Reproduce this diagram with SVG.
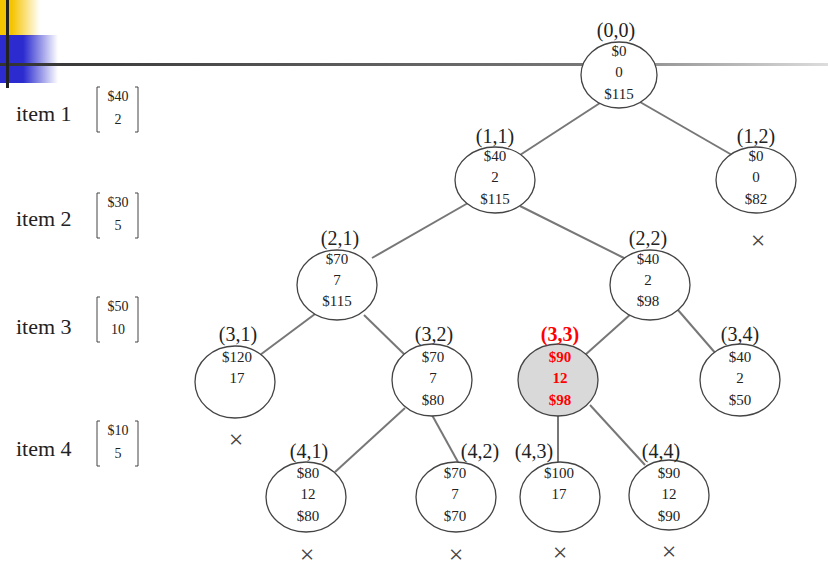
<svg xmlns="http://www.w3.org/2000/svg" width="828" height="575" viewBox="0 0 828 575">
<defs>
<linearGradient id="gy" x1="0" x2="1"><stop offset="0.3" stop-color="#f5c400"/><stop offset="1" stop-color="#f5c400" stop-opacity="0"/></linearGradient>
<linearGradient id="gb" x1="0" x2="1"><stop offset="0.4" stop-color="#2b2bd0"/><stop offset="1" stop-color="#2b2bd0" stop-opacity="0"/></linearGradient>
<linearGradient id="gl" x1="0" x2="1"><stop offset="0" stop-color="#333"/><stop offset="0.7" stop-color="#777"/><stop offset="1" stop-color="#ddd"/></linearGradient>
<style>
text{font-family:'Liberation Serif','DejaVu Serif',serif;fill:#222;text-anchor:middle}
.n ellipse{fill:#fff;stroke:#444;stroke-width:1.3}
.v{font-size:15px}
.l{font-size:20px}
.it{font-size:22px;text-anchor:start}
.m{font-size:14px}
.x{font-size:26px;fill:#444}
#edges line{stroke:#777;stroke-width:2}
.b{fill:none;stroke:#444;stroke-width:1}
.red text{fill:#f00;font-weight:bold}
</style>
</defs>
<rect x="0" y="0" width="40" height="36" fill="url(#gy)"/>
<rect x="0" y="35" width="58" height="48" fill="url(#gb)"/>
<rect x="0" y="63" width="828" height="3" fill="url(#gl)"/>
<rect x="6" y="0" width="3" height="88" fill="#222"/>
<g id="items">
<text class="it" x="16" y="121">item 1</text>
<text class="it" x="16" y="226">item 2</text>
<text class="it" x="16" y="334">item 3</text>
<text class="it" x="16" y="456">item 4</text>
<g id="m1"><path class="b" d="M100,87 h-3 v45 h3 M135,87 h3 v45 h-3"/><text class="m" x="118" y="101">$40</text><text class="m" x="118" y="124">2</text></g>
<g id="m2"><path class="b" d="M100,193 h-3 v45 h3 M135,193 h3 v45 h-3"/><text class="m" x="118" y="207">$30</text><text class="m" x="118" y="230">5</text></g>
<g id="m3"><path class="b" d="M100,297 h-3 v45 h3 M135,297 h3 v45 h-3"/><text class="m" x="118" y="311">$50</text><text class="m" x="118" y="334">10</text></g>
<g id="m4"><path class="b" d="M100,421 h-3 v45 h3 M135,421 h3 v45 h-3"/><text class="m" x="118" y="435">$10</text><text class="m" x="118" y="458">5</text></g>
</g>
<g id="edges">
<line x1="600" y1="103" x2="520" y2="155"/>
<line x1="640" y1="102" x2="732" y2="155"/>
<line x1="468" y1="203" x2="372" y2="258"/>
<line x1="520" y1="206" x2="624" y2="258"/>
<line x1="315" y1="314" x2="260" y2="355"/>
<line x1="364" y1="315" x2="405" y2="355"/>
<line x1="632" y1="313" x2="585" y2="355"/>
<line x1="678" y1="310" x2="717" y2="355"/>
<line x1="405" y1="408" x2="335" y2="472"/>
<line x1="432" y1="415" x2="458" y2="462"/>
<line x1="558" y1="415" x2="558" y2="462"/>
<line x1="590" y1="405" x2="645" y2="465"/>
</g>
<g id="n00" class="n"><ellipse cx="619" cy="75" rx="38" ry="33"/><text class="l" x="616" y="37">(0,0)</text><text class="v" x="619" y="56">$0</text><text class="v" x="619" y="77">0</text><text class="v" x="619" y="99">$115</text></g>
<g id="n11" class="n"><ellipse cx="495" cy="180" rx="40" ry="33"/><text class="l" x="495" y="143">(1,1)</text><text class="v" x="495" y="161">$40</text><text class="v" x="495" y="182">2</text><text class="v" x="495" y="204">$115</text></g>
<g id="n12" class="n"><ellipse cx="756" cy="180" rx="40" ry="33"/><text class="l" x="756" y="143">(1,2)</text><text class="v" x="756" y="161">$0</text><text class="v" x="756" y="182">0</text><text class="v" x="756" y="204">$82</text></g>
<g id="n21" class="n"><ellipse cx="337" cy="285" rx="40" ry="35"/><text class="l" x="340" y="245">(2,1)</text><text class="v" x="337" y="264">$70</text><text class="v" x="337" y="285">7</text><text class="v" x="337" y="306">$115</text></g>
<g id="n22" class="n"><ellipse cx="650" cy="285" rx="40" ry="35"/><text class="l" x="648" y="245">(2,2)</text><text class="v" x="648" y="264">$40</text><text class="v" x="648" y="285">2</text><text class="v" x="648" y="306">$98</text></g>
<g id="n31" class="n"><ellipse cx="235" cy="382" rx="40" ry="36"/><text class="l" x="238" y="341">(3,1)</text><text class="v" x="237" y="362">$120</text><text class="v" x="237" y="383">17</text></g>
<g id="n32" class="n"><ellipse cx="432" cy="380" rx="40" ry="36"/><text class="l" x="434" y="341">(3,2)</text><text class="v" x="433" y="362">$70</text><text class="v" x="433" y="383">7</text><text class="v" x="433" y="405">$80</text></g>
<g id="n33" class="n red"><ellipse cx="558" cy="380" rx="40" ry="36" style="fill:#d9d9d9"/><text class="l" x="560" y="341">(3,3)</text><text class="v" x="560" y="362">$90</text><text class="v" x="560" y="383">12</text><text class="v" x="560" y="405">$98</text></g>
<g id="n34" class="n"><ellipse cx="740" cy="380" rx="40" ry="36"/><text class="l" x="740" y="341">(3,4)</text><text class="v" x="740" y="362">$40</text><text class="v" x="740" y="383">2</text><text class="v" x="740" y="405">$50</text></g>
<g id="n41" class="n"><ellipse cx="306" cy="497" rx="40" ry="35"/><text class="l" x="309" y="458">(4,1)</text><text class="v" x="308" y="478">$80</text><text class="v" x="308" y="499">12</text><text class="v" x="308" y="521">$80</text></g>
<g id="n42" class="n"><ellipse cx="456" cy="497" rx="40" ry="35"/><text class="l" x="480" y="458">(4,2)</text><text class="v" x="455" y="478">$70</text><text class="v" x="455" y="499">7</text><text class="v" x="455" y="521">$70</text></g>
<g id="n43" class="n"><ellipse cx="560" cy="497" rx="40" ry="35"/><text class="l" x="534" y="458">(4,3)</text><text class="v" x="559" y="478">$100</text><text class="v" x="559" y="499">17</text></g>
<g id="n44" class="n"><ellipse cx="669" cy="495" rx="40" ry="35"/><text class="l" x="661" y="458">(4,4)</text><text class="v" x="669" y="478">$90</text><text class="v" x="669" y="499">12</text><text class="v" x="669" y="521">$90</text></g>
<g id="marks">
<text class="x" x="758" y="249">×</text>
<text class="x" x="236" y="448">×</text>
<text class="x" x="307" y="563">×</text>
<text class="x" x="456" y="563">×</text>
<text class="x" x="560" y="561">×</text>
<text class="x" x="669" y="560">×</text>
</g>
</svg>
